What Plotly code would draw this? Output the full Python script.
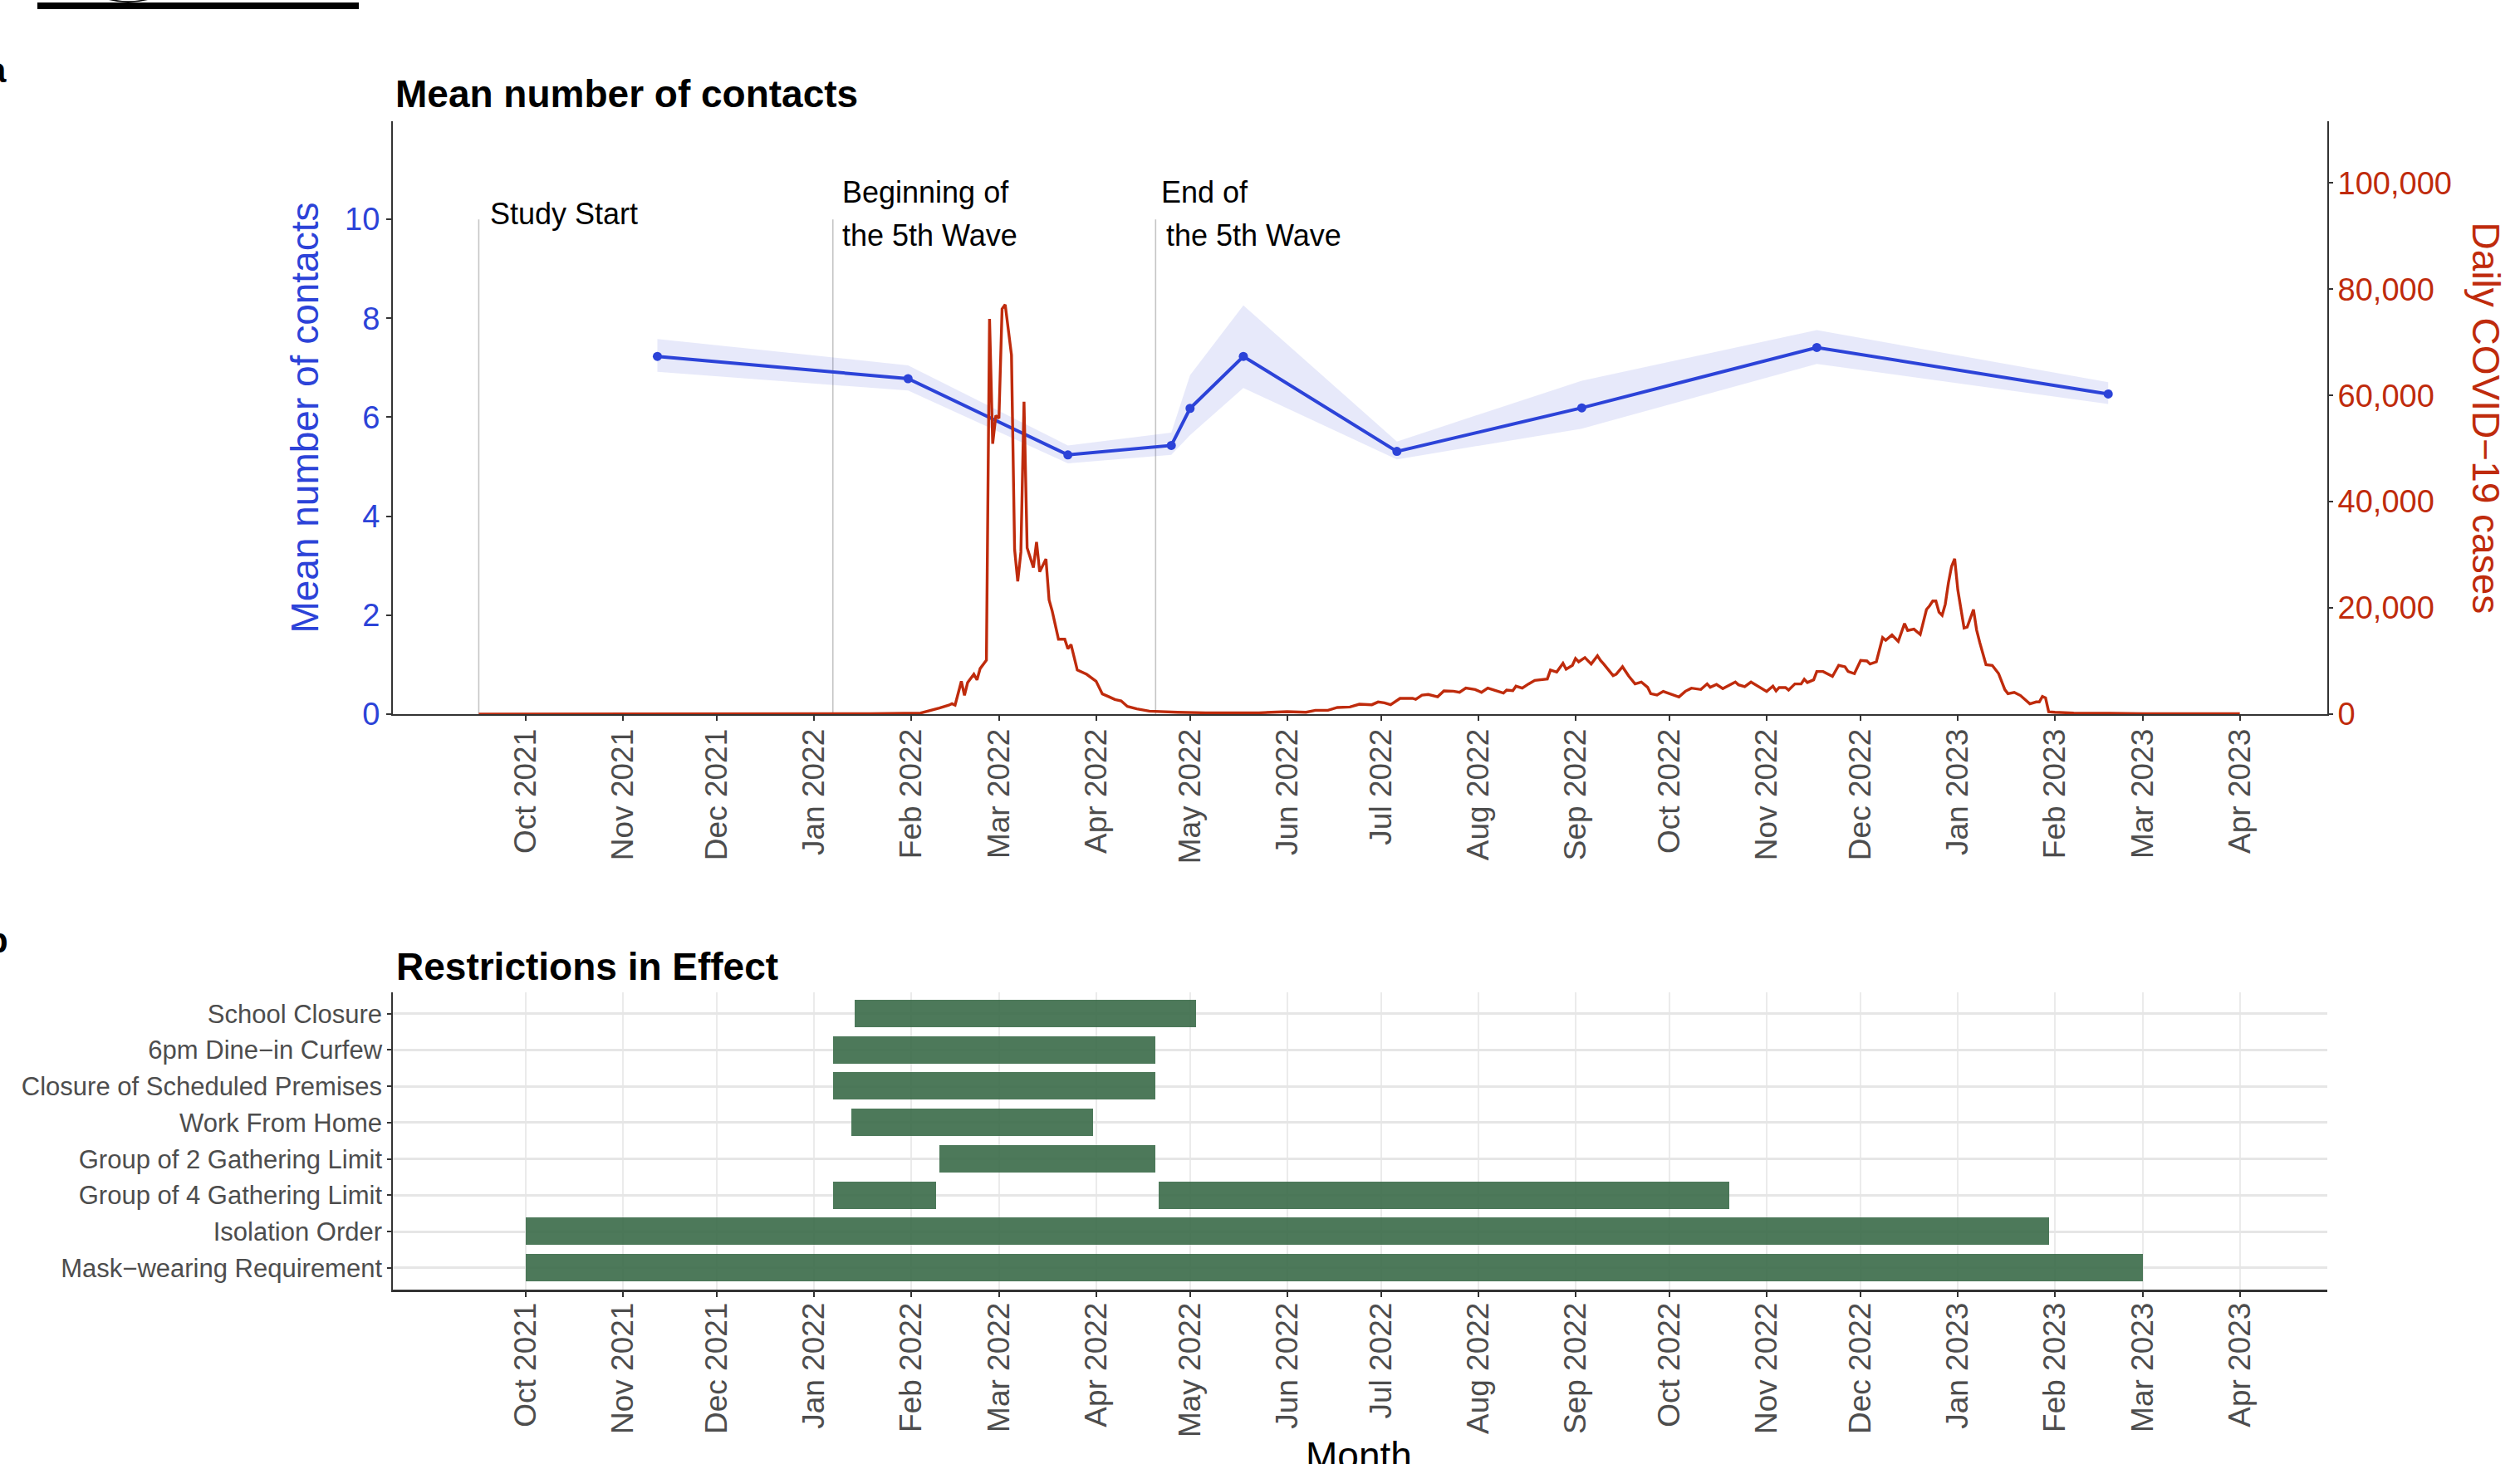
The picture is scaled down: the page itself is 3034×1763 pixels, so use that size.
import pandas as pd
import plotly.graph_objects as go

W, H = 3034, 1763
# vertical extent used when converting pixel positions to paper fractions
H_LAYOUT = 1740
FONT = "Liberation Sans, Arial, Helvetica, sans-serif"
BLUE = "#2C43D8"
RED = "#BF2B0C"
GREEN = "rgba(58,106,72,0.9)"
TICK_GREY = "#4D4D4D"

# ---------------- data ----------------
month_ticks = [
    "2021-10-01", "2021-11-01", "2021-12-01", "2022-01-01", "2022-02-01",
    "2022-03-01", "2022-04-01", "2022-05-01", "2022-06-01", "2022-07-01",
    "2022-08-01", "2022-09-01", "2022-10-01", "2022-11-01", "2022-12-01",
    "2023-01-01", "2023-02-01", "2023-03-01", "2023-04-01",
]
month_labels = [
    "Oct 2021", "Nov 2021", "Dec 2021", "Jan 2022", "Feb 2022", "Mar 2022",
    "Apr 2022", "May 2022", "Jun 2022", "Jul 2022", "Aug 2022", "Sep 2022",
    "Oct 2022", "Nov 2022", "Dec 2022", "Jan 2023", "Feb 2023", "Mar 2023",
    "Apr 2023",
]

contact_dates = [
    "2021-11-12", "2022-01-31", "2022-03-23", "2022-04-25", "2022-05-01",
    "2022-05-18", "2022-07-06", "2022-09-03", "2022-11-17", "2023-02-18",
]
contact_mean = [7.23, 6.78, 5.24, 5.43, 6.18, 7.23, 5.31, 6.19, 7.41, 6.47]
contact_lower = [6.92, 6.54, 5.07, 5.24, 5.64, 6.59, 5.15, 5.77, 7.08, 6.27]
contact_upper = [7.58, 7.05, 5.43, 5.69, 6.85, 8.26, 5.51, 6.74, 7.76, 6.71]

case_dates = [
    "2021-09-16", "2021-10-15", "2021-11-15", "2021-12-15", "2022-01-10",
    "2022-01-19", "2022-02-04", "2022-02-07", "2022-02-10", "2022-02-13",
    "2022-02-14", "2022-02-15", "2022-02-17", "2022-02-18", "2022-02-19",
    "2022-02-21", "2022-02-22", "2022-02-23", "2022-02-24", "2022-02-25",
    "2022-02-26", "2022-02-27", "2022-02-28", "2022-03-01", "2022-03-02",
    "2022-03-03", "2022-03-05", "2022-03-06", "2022-03-07", "2022-03-08",
    "2022-03-09", "2022-03-10", "2022-03-12", "2022-03-13", "2022-03-14",
    "2022-03-16", "2022-03-17", "2022-03-18", "2022-03-20", "2022-03-22",
    "2022-03-23", "2022-03-24", "2022-03-26", "2022-03-29", "2022-04-01",
    "2022-04-03", "2022-04-05", "2022-04-07", "2022-04-09", "2022-04-11",
    "2022-04-14", "2022-04-18", "2022-04-27", "2022-05-06", "2022-05-23",
    "2022-06-01", "2022-06-07", "2022-06-10", "2022-06-14", "2022-06-17",
    "2022-06-21", "2022-06-24", "2022-06-28", "2022-06-30", "2022-07-02",
    "2022-07-04", "2022-07-07", "2022-07-11", "2022-07-12", "2022-07-14",
    "2022-07-16", "2022-07-19", "2022-07-21", "2022-07-24", "2022-07-26",
    "2022-07-28", "2022-07-31", "2022-08-02", "2022-08-04", "2022-08-06",
    "2022-08-09", "2022-08-10", "2022-08-12", "2022-08-13", "2022-08-15",
    "2022-08-17", "2022-08-19", "2022-08-23", "2022-08-24", "2022-08-26",
    "2022-08-28", "2022-08-29", "2022-08-31", "2022-09-01", "2022-09-02",
    "2022-09-04", "2022-09-06", "2022-09-08", "2022-09-09", "2022-09-10",
    "2022-09-13", "2022-09-14", "2022-09-16", "2022-09-18", "2022-09-20",
    "2022-09-22", "2022-09-24", "2022-09-25", "2022-09-27", "2022-09-29",
    "2022-10-02", "2022-10-04", "2022-10-06", "2022-10-08", "2022-10-11",
    "2022-10-13", "2022-10-14", "2022-10-16", "2022-10-18", "2022-10-20",
    "2022-10-22", "2022-10-23", "2022-10-25", "2022-10-27", "2022-10-30",
    "2022-11-01", "2022-11-03", "2022-11-04", "2022-11-05", "2022-11-07",
    "2022-11-08", "2022-11-10", "2022-11-12", "2022-11-13", "2022-11-14",
    "2022-11-16", "2022-11-17", "2022-11-19", "2022-11-22", "2022-11-24",
    "2022-11-26", "2022-11-27", "2022-11-29", "2022-12-01", "2022-12-03",
    "2022-12-04", "2022-12-06", "2022-12-08", "2022-12-09", "2022-12-11",
    "2022-12-13", "2022-12-15", "2022-12-16", "2022-12-18", "2022-12-20",
    "2022-12-22", "2022-12-23", "2022-12-24", "2022-12-25", "2022-12-26",
    "2022-12-27", "2022-12-28", "2022-12-29", "2022-12-30", "2022-12-31",
    "2023-01-01", "2023-01-03", "2023-01-04", "2023-01-06", "2023-01-07",
    "2023-01-08", "2023-01-10", "2023-01-12", "2023-01-14", "2023-01-16",
    "2023-01-17", "2023-01-19", "2023-01-21", "2023-01-23", "2023-01-24",
    "2023-01-26", "2023-01-27", "2023-01-28", "2023-01-29", "2023-01-30",
    "2023-02-01", "2023-02-07", "2023-03-01", "2023-04-01",
]
case_counts = [
    0, 10, 10, 20, 50,
    100, 200, 630, 1160, 1690,
    1960, 1690, 6180, 3540, 5930,
    7510, 6450, 8580, 9360, 10160,
    74400, 50900, 56200, 55700, 76300,
    77100, 67600, 31000, 25000, 30500,
    58800, 31300, 27600, 32400, 26800,
    29200, 21500, 19400, 14100, 14100,
    12300, 13100, 8300, 7500, 6200,
    3800, 3300, 2750, 2500, 1450,
    1000, 560, 350, 250, 250,
    460, 350, 720, 720, 1250,
    1350, 1870, 1770, 2290, 2130,
    1770, 2970, 2970, 2800, 3590,
    3700, 3270, 4370, 4320, 4110,
    4900, 4630, 4110, 4900, 4530,
    3960, 4530, 4420, 5260, 4900,
    5680, 6360, 6620, 8300, 7930,
    9590, 8450, 9180, 10480, 9850,
    10640, 9440, 11000, 10100, 9440,
    7250, 7510, 8920, 7150, 5690,
    6050, 5060, 3860, 3600, 4280,
    3600, 3230, 4280, 4900, 4640,
    5690, 5060, 5580, 4800, 5430,
    6050, 5530, 5160, 6050, 5060,
    4280, 5270, 4380, 5010, 5010,
    4540, 5690, 5690, 6570, 5950,
    6470, 8030, 8030, 7100, 9180,
    8920, 8030, 7620, 10120, 10010,
    9440, 9850, 14400, 13900, 14900,
    13700, 17050, 15750, 16000, 15000,
    19700, 20400, 21300, 21300, 19200,
    18600, 20700, 24700, 27800, 29250,
    23400, 16200, 16400, 19700, 15850,
    13500, 9300, 9180, 7660, 4630,
    3850, 4100, 3500, 2450, 1930,
    2300, 2300, 3330, 3070, 450,
    350, 200, 100, 100,
]

event_dates = ["2021-09-16", "2022-01-07", "2022-04-20"]

restriction_order = [
    "School Closure", "6pm Dine\u2212in Curfew", "Closure of Scheduled Premises",
    "Work From Home", "Group of 2 Gathering Limit", "Group of 4 Gathering Limit",
    "Isolation Order", "Mask\u2212wearing Requirement",
]
restriction_rows = [
    "School Closure", "6pm Dine\u2212in Curfew", "Closure of Scheduled Premises",
    "Work From Home", "Group of 2 Gathering Limit", "Group of 4 Gathering Limit",
    "Group of 4 Gathering Limit", "Isolation Order", "Mask\u2212wearing Requirement",
]
restriction_start = [
    "2022-01-14", "2022-01-07", "2022-01-07", "2022-01-13", "2022-02-10",
    "2022-01-07", "2022-04-21", "2021-10-01", "2021-10-01",
]
restriction_end = [
    "2022-05-03", "2022-04-20", "2022-04-20", "2022-03-31", "2022-04-20",
    "2022-02-09", "2022-10-20", "2023-01-30", "2023-03-01",
]


# ---------------- helpers: pixel -> paper ----------------
def px(x):
    return x / W


def py(y):
    return 1 - y / H_LAYOUT


x_range = ["2021-08-19 14:00:00", "2023-04-28 22:00:00"]

fig = go.Figure()

# Confidence band for mean contacts
fig.add_trace(go.Scatter(
    x=contact_dates + contact_dates[::-1],
    y=contact_upper + contact_lower[::-1],
    fill="toself", fillcolor="rgba(95,105,220,0.15)",
    line=dict(width=0), mode="lines", hoverinfo="skip",
    xaxis="x", yaxis="y", showlegend=False,
))
# Mean contacts
fig.add_trace(go.Scatter(
    x=contact_dates, y=contact_mean, mode="lines+markers",
    line=dict(color=BLUE, width=4), marker=dict(color=BLUE, size=11),
    xaxis="x", yaxis="y", showlegend=False,
))
# Daily cases on secondary axis
fig.add_trace(go.Scatter(
    x=case_dates, y=case_counts, mode="lines",
    line=dict(color=RED, width=3.4),
    xaxis="x", yaxis="y2", showlegend=False,
))

# Restrictions as horizontal bars
durations = [
    (pd.Timestamp(e) - pd.Timestamp(s)).total_seconds() * 1000
    for s, e in zip(restriction_start, restriction_end)
]
fig.add_trace(go.Bar(
    y=restriction_rows, x=durations, base=restriction_start,
    orientation="h", width=0.755,
    marker=dict(color=GREEN, line=dict(width=0)),
    xaxis="x2", yaxis="y3", showlegend=False,
))

# Event marker lines
shapes = []
for d in event_dates:
    shapes.append(dict(
        type="line", xref="x", yref="y", x0=d, x1=d, y0=0, y1=10,
        line=dict(color="#C4C4C4", width=1.6), layer="below",
    ))
# top rule and the clipped glyph tail beside it
shapes.append(dict(
    type="rect", xref="paper", yref="paper",
    x0=px(45), x1=px(432), y0=py(11), y1=py(3),
    fillcolor="black", line=dict(width=0),
))
shapes.append(dict(
    type="path", xref="paper", yref="paper",
    path=(f"M {px(131)},{py(0)} Q {px(154)},{py(6)} {px(178)},{py(0)} "
          f"L {px(170)},{py(0)} Q {px(154)},{py(2.5)} {px(140)},{py(0)} Z"),
    fillcolor="black", line=dict(width=0),
))

axis_font = dict(family=FONT, size=37, color=TICK_GREY)
common_x = dict(
    type="date", range=x_range, tickvals=month_ticks, ticktext=month_labels,
    tickangle=-90, tickfont=axis_font, ticks="outside", ticklen=6,
    tickwidth=2, tickcolor="#333333", showline=True, linecolor="#333333",
    zeroline=False,
)

fig.update_layout(
    width=W, height=H,
    margin=dict(l=0, r=0, t=0, b=0),
    paper_bgcolor="white", plot_bgcolor="white",
    font=dict(family=FONT),
    bargap=0,
    xaxis=dict(
        **common_x, domain=[px(473), px(2802)], anchor="y",
        linewidth=2, showgrid=False, ticklabelstandoff=-5,
    ),
    yaxis=dict(
        domain=[py(859), py(146)], range=[0, 11.98],
        tickvals=[0, 2, 4, 6, 8, 10], tickfont=dict(family=FONT, size=38, color=BLUE),
        ticks="outside", ticklen=6, tickwidth=1.5, tickcolor="#333333",
        showline=True, linecolor="#333333", linewidth=2,
        showgrid=False, zeroline=False, anchor="x",
    ),
    yaxis2=dict(
        overlaying="y", side="right", anchor="x", range=[0, 111600],
        tickvals=[0, 20000, 40000, 60000, 80000, 100000], tickformat=",",
        tickfont=dict(family=FONT, size=38, color=RED),
        ticks="outside", ticklen=5, tickwidth=1.5, tickcolor="#333333",
        showline=True, linecolor="#333333", linewidth=2, ticklabelstandoff=-2,
        showgrid=False, zeroline=False,
    ),
    xaxis2=dict(
        **common_x, domain=[px(473), px(2802)], anchor="y3",
        linewidth=3, showgrid=True, gridcolor="#EBEBEB", gridwidth=1.5,
        ticklabelstandoff=-8,
    ),
    yaxis3=dict(
        domain=[py(1551), py(1194)], anchor="x2", type="category",
        categoryorder="array", categoryarray=restriction_order[::-1],
        range=[-0.59, 7.58],
        tickfont=dict(family=FONT, size=31, color=TICK_GREY),
        ticks="outside", ticklen=5, tickwidth=1.5, tickcolor="#333333",
        showline=True, linecolor="#333333", linewidth=1.5,
        showgrid=True, gridcolor="#E6E6E6", gridwidth=2.5, zeroline=False,
    ),
    shapes=shapes,
)

ann = []


def text(x, y, s, size=36, color="black", bold=False, xanchor="left", angle=0):
    if bold:
        s = "<b>" + s + "</b>"
    ann.append(dict(
        x=px(x), y=py(y), xref="paper", yref="paper", text=s, showarrow=False,
        xanchor=xanchor, yanchor="middle", textangle=angle,
        font=dict(family=FONT, size=size, color=color),
    ))


text(474, 113, "Mean number of contacts", size=46, bold=True)
text(475, 1163, "Restrictions in Effect", size=46, bold=True)
text(10, 84, "a", size=42, bold=True, xanchor="right")
text(12, 1131, "b", size=42, bold=True, xanchor="right")

text(588, 257, "Study Start")
text(1012, 231, "Beginning of")
text(1012, 283, "the 5th Wave")
text(1396, 231, "End of")
text(1402, 283, "the 5th Wave")

text(367, 503, "Mean number of contacts", size=46, color=BLUE, xanchor="center", angle=-90)
text(2993, 503, "Daily COVID\u221219 cases", size=46, color=RED, xanchor="center", angle=90)
text(1636, 1751, "Month", size=46, xanchor="center")

fig.update_layout(annotations=ann)

fig.write_html("out.html")
